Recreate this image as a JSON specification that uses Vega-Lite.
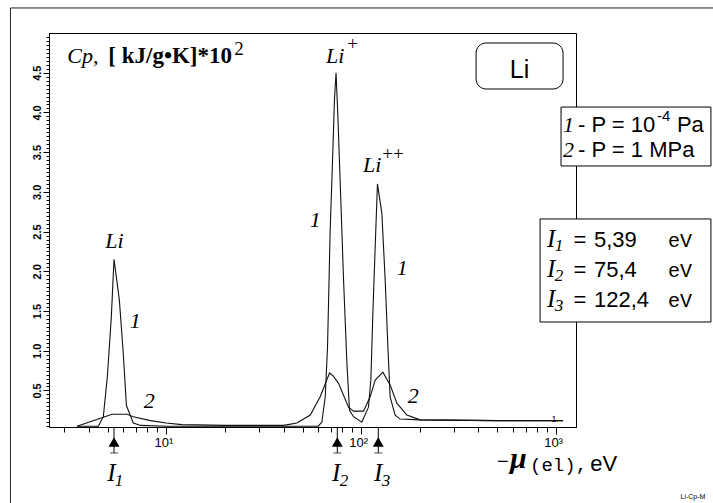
{
  "$schema": "https://vega.github.io/schema/vega-lite/v6.json",
  "width": 527,
  "height": 394,
  "autosize": {"type": "none"},
  "padding": {"left": 49, "top": 33, "right": 137, "bottom": 76},
  "background": "white",
  "config": {
    "view": {"stroke": "black", "strokeWidth": 1},
    "axis": {"grid": false, "domainColor": "black", "tickColor": "black", "labelColor": "black", "title": null}
  },
  "datasets": {
    "curves": [
      {"x": 3.48, "y": 0.05, "s": "1"}, {"x": 4.48, "y": 0.05, "s": "1"}, {"x": 4.75, "y": 0.17, "s": "1"},
      {"x": 4.98, "y": 0.67, "s": "1"}, {"x": 5.22, "y": 1.42, "s": "1"}, {"x": 5.39, "y": 2.15, "s": "1"},
      {"x": 5.74, "y": 1.64, "s": "1"}, {"x": 6.0, "y": 1.0, "s": "1"}, {"x": 6.24, "y": 0.31, "s": "1"},
      {"x": 6.77, "y": 0.09, "s": "1"}, {"x": 7.4, "y": 0.06, "s": "1"}, {"x": 10, "y": 0.05, "s": "1"},
      {"x": 20, "y": 0.05, "s": "1"}, {"x": 40, "y": 0.05, "s": "1"}, {"x": 60.2, "y": 0.05, "s": "1"},
      {"x": 62.8, "y": 0.1, "s": "1"}, {"x": 65.4, "y": 0.42, "s": "1"}, {"x": 67.2, "y": 1.05, "s": "1"},
      {"x": 69.3, "y": 2.5, "s": "1"}, {"x": 71.3, "y": 3.4, "s": "1"}, {"x": 72.9, "y": 4.15, "s": "1"},
      {"x": 74.3, "y": 4.5, "s": "1"}, {"x": 75.8, "y": 4.0, "s": "1"}, {"x": 78.0, "y": 3.14, "s": "1"},
      {"x": 81.2, "y": 1.89, "s": "1"}, {"x": 84.5, "y": 0.84, "s": "1"}, {"x": 87.1, "y": 0.25, "s": "1"},
      {"x": 91.3, "y": 0.17, "s": "1"}, {"x": 100.8, "y": 0.1, "s": "1"}, {"x": 109.0, "y": 0.29, "s": "1"},
      {"x": 112.1, "y": 0.63, "s": "1"}, {"x": 114.8, "y": 1.47, "s": "1"}, {"x": 118.0, "y": 2.31, "s": "1"},
      {"x": 121.2, "y": 3.1, "s": "1"}, {"x": 127.7, "y": 2.73, "s": "1"}, {"x": 132.8, "y": 1.89, "s": "1"},
      {"x": 137.1, "y": 1.05, "s": "1"}, {"x": 140.8, "y": 0.42, "s": "1"}, {"x": 149.4, "y": 0.19, "s": "1"},
      {"x": 158.5, "y": 0.14, "s": "1"}, {"x": 200, "y": 0.13, "s": "1"}, {"x": 500, "y": 0.12, "s": "1"},
      {"x": 1087, "y": 0.12, "s": "1"},
      {"x": 3.48, "y": 0.05, "s": "2"}, {"x": 4.59, "y": 0.15, "s": "2"}, {"x": 5.27, "y": 0.2, "s": "2"},
      {"x": 6.29, "y": 0.2, "s": "2"}, {"x": 6.77, "y": 0.17, "s": "2"}, {"x": 8.28, "y": 0.12, "s": "2"},
      {"x": 10, "y": 0.09, "s": "2"}, {"x": 12, "y": 0.07, "s": "2"}, {"x": 20, "y": 0.06, "s": "2"},
      {"x": 40, "y": 0.06, "s": "2"}, {"x": 46.8, "y": 0.09, "s": "2"}, {"x": 54.8, "y": 0.19, "s": "2"},
      {"x": 61.6, "y": 0.42, "s": "2"}, {"x": 68.8, "y": 0.72, "s": "2"}, {"x": 72, "y": 0.68, "s": "2"},
      {"x": 76.5, "y": 0.59, "s": "2"}, {"x": 86.1, "y": 0.29, "s": "2"}, {"x": 91.3, "y": 0.24, "s": "2"},
      {"x": 102.8, "y": 0.24, "s": "2"}, {"x": 111.2, "y": 0.42, "s": "2"}, {"x": 118, "y": 0.63, "s": "2"},
      {"x": 129.2, "y": 0.73, "s": "2"}, {"x": 140.8, "y": 0.57, "s": "2"}, {"x": 152.4, "y": 0.34, "s": "2"},
      {"x": 171.6, "y": 0.19, "s": "2"}, {"x": 200.7, "y": 0.13, "s": "2"}, {"x": 500, "y": 0.12, "s": "2"},
      {"x": 1087, "y": 0.12, "s": "2"}
    ]
  },
  "encoding": {
    "x": {
      "field": "x", "type": "quantitative",
      "scale": {"type": "log", "domain": [2.5, 1266], "nice": false},
      "axis": {
        "title": null,
        "values": [3,4,5,6,7,8,9,10,20,30,40,50,60,70,80,90,100,200,300,400,500,600,700,800,900,1000],
        "labelExpr": "datum.value == 10 ? '10¹' : datum.value == 100 ? '10²' : datum.value == 1000 ? '10³' : ''",
        "tickSize": {"condition": {"test": "datum.value == 10 || datum.value == 100 || datum.value == 1000", "value": 7}, "value": 5},
        "labelFont": "Liberation Sans", "labelFontSize": 13, "labelPadding": 2, "labelOffset": -3,
        "labelOverlap": false, "labelFlush": false
      }
    },
    "y": {
      "field": "y", "type": "quantitative",
      "scale": {"domain": [0.04, 5], "nice": false, "zero": false},
      "axis": {
        "title": null,
        "values": [0.05,0.1,0.15,0.2,0.25,0.3,0.35,0.4,0.45,0.5,0.55,0.6,0.65,0.7,0.75,0.8,0.85,0.9,0.95,1,1.05,1.1,1.15,1.2,1.25,1.3,1.35,1.4,1.45,1.5,1.55,1.6,1.65,1.7,1.75,1.8,1.85,1.9,1.95,2,2.05,2.1,2.15,2.2,2.25,2.3,2.35,2.4,2.45,2.5,2.55,2.6,2.65,2.7,2.75,2.8,2.85,2.9,2.95,3,3.05,3.1,3.15,3.2,3.25,3.3,3.35,3.4,3.45,3.5,3.55,3.6,3.65,3.7,3.75,3.8,3.85,3.9,3.95,4,4.05,4.1,4.15,4.2,4.25,4.3,4.35,4.4,4.45,4.5,4.55,4.6,4.65,4.7,4.75,4.8,4.85,4.9,4.95],
        "labelExpr": "abs(datum.value*2 - round(datum.value*2)) < 0.001 ? format(datum.value, '.1f') : ''",
        "tickSize": {"condition": {"test": "abs(datum.value*2 - round(datum.value*2)) < 0.001", "value": 6}, "value": 3},
        "labelAngle": 270, "labelAlign": "center", "labelBaseline": "bottom", "labelPadding": 1,
        "labelFont": "Liberation Sans", "labelFontSize": 11, "labelFontWeight": "bold",
        "labelOverlap": false, "labelFlush": false
      }
    }
  },
  "layer": [
    {
      "data": {"values": [{"x": 1.585, "x2": 100000, "y": 5.315, "y2": -3}]},
      "mark": {"type": "rect", "fillOpacity": 0, "stroke": "#222", "strokeWidth": 1},
      "encoding": {"x2": {"field": "x2"}, "y2": {"field": "y2"}}
    },
    {
      "data": {"name": "curves"},
      "mark": {"type": "line", "color": "#111", "strokeWidth": 1.1},
      "encoding": {"detail": {"field": "s"}}
    },
    {
      "data": {"values": [{"x": 388.8, "x2": 1086.4, "y": 4.874, "y2": 4.295}]},
      "mark": {"type": "rect", "fill": "white", "stroke": "black", "strokeWidth": 1, "cornerRadius": 10},
      "encoding": {"x2": {"field": "x2"}, "y2": {"field": "y2"}}
    },
    {
      "data": {"values": [{"x": 1060.8, "x2": 6235, "y": 4.068, "y2": 3.326}, {"x": 827.9, "x2": 6235, "y": 2.659, "y2": 1.362}]},
      "mark": {"type": "rect", "fill": "white", "stroke": "black", "strokeWidth": 1},
      "encoding": {"x2": {"field": "x2"}, "y2": {"field": "y2"}}
    },
    {
      "data": {"values": [{"x": 5.39, "y": 0.04, "y2": -0.287}, {"x": 75.4, "y": 0.04, "y2": -0.287}, {"x": 122.4, "y": 0.04, "y2": -0.287}]},
      "mark": {"type": "rule", "color": "black", "strokeWidth": 1},
      "encoding": {"y2": {"field": "y2"}}
    },
    {
      "data": {"values": [{"x": 5.39, "y": -0.15}, {"x": 75.4, "y": -0.15}, {"x": 122.4, "y": -0.15}]},
      "mark": {"type": "point", "shape": "triangle-up", "filled": true, "color": "black", "size": 120, "opacity": 1},
      "encoding": {}
    },
    {
      "data": {"values": [{"x": 5.39, "y": -0.287}, {"x": 75.4, "y": -0.287}, {"x": 122.4, "y": -0.287}]},
      "mark": {"type": "tick", "orient": "horizontal", "color": "black", "size": 8, "thickness": 1},
      "encoding": {}
    },
    {
      "data": {"values": [
        {"x": 5.41, "y": 2.293, "t": "Li"}, {"x": 73.6, "y": 4.622, "t": "Li"}, {"x": 113.9, "y": 3.25, "t": "Li"},
        {"x": 6.93, "y": 1.286, "t": "1"}, {"x": 58.1, "y": 2.558, "t": "1"}, {"x": 162.3, "y": 1.954, "t": "1"},
        {"x": 8.18, "y": 0.279, "t": "2"}, {"x": 184.8, "y": 0.342, "t": "2"}, {"x": 3.73, "y": 4.622, "t": "Cp,"},
        {"x": 1158.9, "y": 3.754, "t": "1"}, {"x": 1158.9, "y": 3.439, "t": "2"}
      ]},
      "mark": {"type": "text", "font": "Liberation Serif", "fontStyle": "italic", "fontSize": 22, "align": "center", "baseline": "alphabetic", "color": "black"},
      "encoding": {"text": {"field": "t"}}
    },
    {
      "data": {"values": [
        {"x": 5.22, "y": -0.64, "t": "I"}, {"x": 74.4, "y": -0.64, "t": "I"}, {"x": 122.3, "y": -0.64, "t": "I"},
        {"x": 942.8, "y": 2.306, "t": "I"}, {"x": 942.8, "y": 1.928, "t": "I"}, {"x": 942.8, "y": 1.551, "t": "I"}
      ]},
      "mark": {"type": "text", "font": "Liberation Serif", "fontStyle": "italic", "fontSize": 25, "align": "center", "baseline": "alphabetic", "color": "black"},
      "encoding": {"text": {"field": "t"}}
    },
    {
      "data": {"values": [
        {"x": 5.72, "y": -0.703, "t": "1"}, {"x": 81.6, "y": -0.703, "t": "2"}, {"x": 134.2, "y": -0.703, "t": "3"},
        {"x": 1035, "y": 2.256, "t": "1"}, {"x": 1035, "y": 1.878, "t": "2"}, {"x": 1035, "y": 1.5, "t": "3"}
      ]},
      "mark": {"type": "text", "font": "Liberation Serif", "fontStyle": "italic", "fontSize": 17, "align": "center", "baseline": "alphabetic", "color": "black"},
      "encoding": {"text": {"field": "t"}}
    },
    {
      "data": {"values": [{"x": 84.8, "y": 4.786, "t": "+"}, {"x": 128.2, "y": 3.401, "t": "++"}, {"x": 22.32, "y": 4.723, "t": "2"}]},
      "mark": {"type": "text", "font": "Liberation Serif", "fontSize": 19, "align": "left", "baseline": "alphabetic", "color": "black"},
      "encoding": {"text": {"field": "t"}}
    },
    {
      "data": {"values": [{"x": 5.04, "y": 4.622, "t": "[ kJ/g•K]*10"}]},
      "mark": {"type": "text", "font": "Liberation Serif", "fontWeight": "bold", "fontSize": 23, "align": "left", "baseline": "alphabetic", "color": "black"},
      "encoding": {"text": {"field": "t"}}
    },
    {
      "data": {"values": [
        {"x": 1296.5, "y": 3.754, "t": "- P = 10"}, {"x": 4173, "y": 3.754, "t": "Pa"}, {"x": 1296.5, "y": 3.439, "t": "- P = 1 MPa"},
        {"x": 1566, "y": 2.306, "t": "5,39"}, {"x": 1566, "y": 1.928, "t": "75,4"}, {"x": 1566, "y": 1.551, "t": "122,4"}
      ]},
      "mark": {"type": "text", "font": "Liberation Sans", "fontSize": 22, "align": "left", "baseline": "alphabetic", "color": "black"},
      "encoding": {"text": {"field": "t"}}
    },
    {
      "data": {"values": [{"x": 1327.6, "y": 2.306, "t": "="}, {"x": 1327.6, "y": 1.928, "t": "="}, {"x": 1327.6, "y": 1.551, "t": "="}]},
      "mark": {"type": "text", "font": "Liberation Sans", "fontSize": 22, "align": "center", "baseline": "alphabetic", "color": "black"},
      "encoding": {"text": {"field": "t"}}
    },
    {
      "data": {"values": [{"x": 3296, "y": 3.892, "t": "-4"}]},
      "mark": {"type": "text", "font": "Liberation Sans", "fontSize": 15, "align": "left", "baseline": "alphabetic", "color": "black"},
      "encoding": {"text": {"field": "t"}}
    },
    {
      "data": {"values": [{"x": 649.6, "y": 4.434, "t": "Li"}]},
      "mark": {"type": "text", "font": "Liberation Sans", "fontSize": 25, "align": "center", "baseline": "alphabetic", "color": "black"},
      "encoding": {"text": {"field": "t"}}
    },
    {
      "data": {"values": [{"x": 3753, "y": 2.306, "t": "eV"}, {"x": 3753, "y": 1.928, "t": "eV"}, {"x": 3753, "y": 1.551, "t": "eV"}]},
      "mark": {"type": "text", "font": "Liberation Mono", "fontSize": 20, "align": "left", "baseline": "alphabetic", "color": "black"},
      "encoding": {"text": {"field": "t"}}
    },
    {
      "data": {"values": [{"x": 498.3, "y": -0.476, "t": "−"}]},
      "mark": {"type": "text", "font": "Liberation Sans", "fontSize": 20, "align": "left", "baseline": "alphabetic", "color": "black"},
      "encoding": {"text": {"field": "t"}}
    },
    {
      "data": {"values": [{"x": 1500, "y": -0.514, "t": "eV"}]},
      "mark": {"type": "text", "font": "Liberation Sans", "fontSize": 22, "align": "left", "baseline": "alphabetic", "color": "black"},
      "encoding": {"text": {"field": "t"}}
    },
    {
      "data": {"values": [{"x": 580, "y": -0.476, "t": "μ"}]},
      "mark": {"type": "text", "font": "Liberation Serif", "fontStyle": "italic", "fontWeight": "bold", "fontSize": 30, "align": "left", "baseline": "alphabetic", "color": "black"},
      "encoding": {"text": {"field": "t"}}
    },
    {
      "data": {"values": [{"x": 735.6, "y": -0.514, "t": "(el),"}]},
      "mark": {"type": "text", "font": "Liberation Mono", "fontSize": 19, "align": "left", "baseline": "alphabetic", "color": "black"},
      "encoding": {"text": {"field": "t"}}
    },
    {
      "data": {"values": [{"x": 976.6, "y": 0.103, "t": "1"}]},
      "mark": {"type": "text", "font": "Liberation Sans", "fontSize": 9, "align": "center", "baseline": "alphabetic", "color": "black"},
      "encoding": {"text": {"field": "t"}}
    },
    {
      "data": {"values": [{"x": 5041, "y": -0.866, "t": "Li-Cp-M"}]},
      "mark": {"type": "text", "font": "Liberation Sans", "fontSize": 7, "align": "center", "baseline": "alphabetic", "color": "black"},
      "encoding": {"text": {"field": "t"}}
    }
  ]
}
